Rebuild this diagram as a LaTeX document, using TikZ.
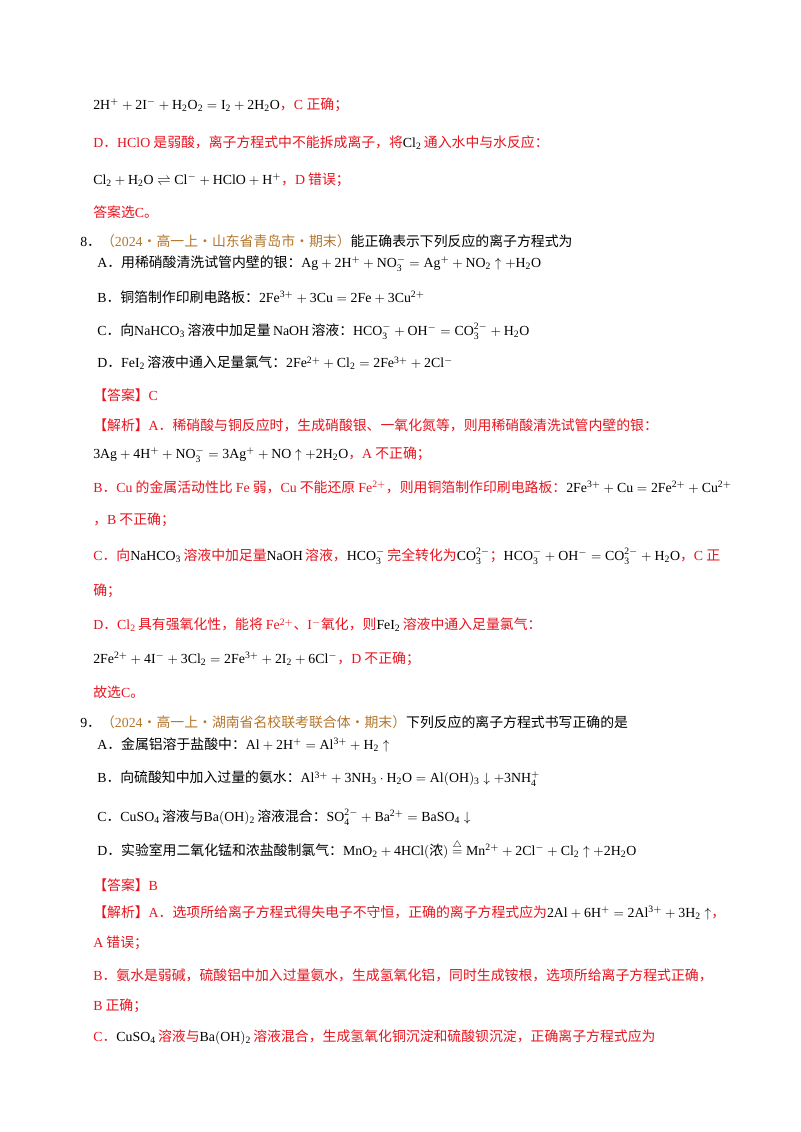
\documentclass[tikz,border=0pt]{standalone}
\usepackage{fontspec}
\setmainfont{Noto Sans CJK SC}
\setmathrm{Liberation Serif}
\newfontfamily\lt{Liberation Serif}
\definecolor{ansred}{RGB}{232,20,30}
\definecolor{srcbrown}{RGB}{181,118,43}
\newcommand{\m}[1]{{\lt$\mathrm{#1}$}}
\tikzset{t/.style={anchor=west,inner sep=0pt,font=\fontsize{10.4}{12}\selectfont},
 r/.style={t,text=ansred}}
\begin{document}
\begin{tikzpicture}[x=0.75pt,y=-0.75pt]
\useasboundingbox (0,0) rectangle (800,1132);
\fill[white] (0,0) rectangle (800,1132);
\node[t] (l1) at (93,105) {\m{2H^{+}+2I^{-}+H_2O_2=I_2+2H_2O}\textcolor{ansred}{，\lt C \rmfamily 正确；}};
\node[r] (l2) at (93,143) {{\lt D}．{\lt HClO} 是弱酸，离子方程式中不能拆成离子，将\textcolor{black}{\m{Cl_2}\,}通入水中与水反应：};
\node[t] (l3) at (93,180) {\m{Cl_2+H_2O\rightleftharpoons Cl^{-}+HClO+H^{+}}\textcolor{ansred}{，{\lt D} 错误；}};
\node[r] (l4) at (93,212) {答案选{\lt C}。};
\node[t] (q8) at (80,241) {{\lt 8}．\textcolor{srcbrown}{（{\lt 2024}·高一上·山东省青岛市·期末）}能正确表示下列反应的离子方程式为};
\node[t] (a8) at (97,264) {{\lt A}．用稀硝酸清洗试管内壁的银：\m{Ag+2H^{+}+NO_3^{-}=Ag^{+}+NO_2\uparrow+H_2O}};
\node[t] (b8) at (97,297) {{\lt B}．铜箔制作印刷电路板：\m{2Fe^{3+}+3Cu=2Fe+3Cu^{2+}}};
\node[t] (c8) at (97,331) {{\lt C}．向\m{NaHCO_3}\,溶液中加足量\,\m{NaOH}\,溶液：\m{HCO_3^{-}+OH^{-}=CO_3^{2-}+H_2O}};
\node[t] (d8) at (97,363) {{\lt D}．\m{FeI_2}\,溶液中通入足量氯气：\m{2Fe^{2+}+Cl_2=2Fe^{3+}+2Cl^{-}}};
\node[r] (k8) at (93,395) {【答案】{\lt C}};
\node[r] (j1) at (93,425) {【解析】{\lt A}．稀硝酸与铜反应时，生成硝酸银、一氧化氮等，则用稀硝酸清洗试管内壁的银：};
\node[t] (j2) at (93,455) {\m{3Ag+4H^{+}+NO_3^{-}=3Ag^{+}+NO\uparrow+2H_2O}\textcolor{ansred}{，{\lt A} 不正确；}};
\node[r] (j3) at (93,487) {{\lt B}．{\lt Cu} 的金属活动性比 {\lt Fe} 弱，{\lt Cu} 不能还原 \m{Fe^{2+}}，则用铜箔制作印刷电路板：\textcolor{black}{\m{2Fe^{3+}+Cu=2Fe^{2+}+Cu^{2+}}}};
\node[r] (j4) at (93,520) {，{\lt B} 不正确；};
\node[r] (j5) at (93,556) {{\lt C}．向\textcolor{black}{\m{NaHCO_3}\,}溶液中加足量\textcolor{black}{\m{NaOH}\,}溶液，\textcolor{black}{\m{HCO_3^{-}}\,}完全转化为\textcolor{black}{\m{CO_3^{2-}}}；\textcolor{black}{\m{HCO_3^{-}+OH^{-}=CO_3^{2-}+H_2O}}，{\lt C} 正};
\node[r] (j6) at (93,591) {确；};
\node[r] (j7) at (93,625) {{\lt D}．\m{Cl_2}\,具有强氧化性，能将 \m{Fe^{2+}}、\m{I^{-}}氧化，则\textcolor{black}{\m{FeI_2}\,}溶液中通入足量氯气：};
\node[t] (j8) at (93,659) {\m{2Fe^{2+}+4I^{-}+3Cl_2=2Fe^{3+}+2I_2+6Cl^{-}}\textcolor{ansred}{，{\lt D} 不正确；}};
\node[r] (j9) at (93,692) {故选{\lt C}。};
\node[t] (q9) at (80,722) {{\lt 9}．\textcolor{srcbrown}{（{\lt 2024}·高一上·湖南省名校联考联合体·期末）}下列反应的离子方程式书写正确的是};
\node[t] (a9) at (97,745) {{\lt A}．金属铝溶于盐酸中：\m{Al+2H^{+}=Al^{3+}+H_2\uparrow}};
\node[t] (b9) at (97,779) {{\lt B}．向硫酸知中加入过量的氨水：\m{Al^{3+}+3NH_3\cdot H_2O=Al(OH)_3\downarrow+3NH_4^{+}}};
\node[t] (c9) at (97,817) {{\lt C}．\m{CuSO_4}\,溶液与\m{Ba(OH)_2}\,溶液混合：\m{SO_4^{2-}+Ba^{2+}=BaSO_4\downarrow}};
\node[t] (d9) at (97,849) {{\lt D}．实验室用二氧化锰和浓盐酸制氯气：\m{MnO_2+4HCl(}浓\m{)\stackrel{\triangle}{=}Mn^{2+}+2Cl^{-}+Cl_2\uparrow+2H_2O}};
\node[r] (k9) at (93,885) {【答案】{\lt B}};
\node[r] (p1) at (93,913) {【解析】{\lt A}．选项所给离子方程式得失电子不守恒，正确的离子方程式应为\textcolor{black}{\m{2Al+6H^{+}=2Al^{3+}+3H_2\uparrow}}，};
\node[r] (p2) at (93,943) {{\lt A} 错误；};
\node[r] (p3) at (93,975) {{\lt B}．氨水是弱碱，硫酸铝中加入过量氨水，生成氢氧化铝，同时生成铵根，选项所给离子方程式正确，};
\node[r] (p4) at (93,1006) {{\lt B} 正确；};
\node[r] (p5) at (93,1037) {{\lt C}．\textcolor{black}{\m{CuSO_4}\,}溶液与\textcolor{black}{\m{Ba(OH)_2}\,}溶液混合，生成氢氧化铜沉淀和硫酸钡沉淀，正确离子方程式应为};
\end{tikzpicture}
\end{document}
